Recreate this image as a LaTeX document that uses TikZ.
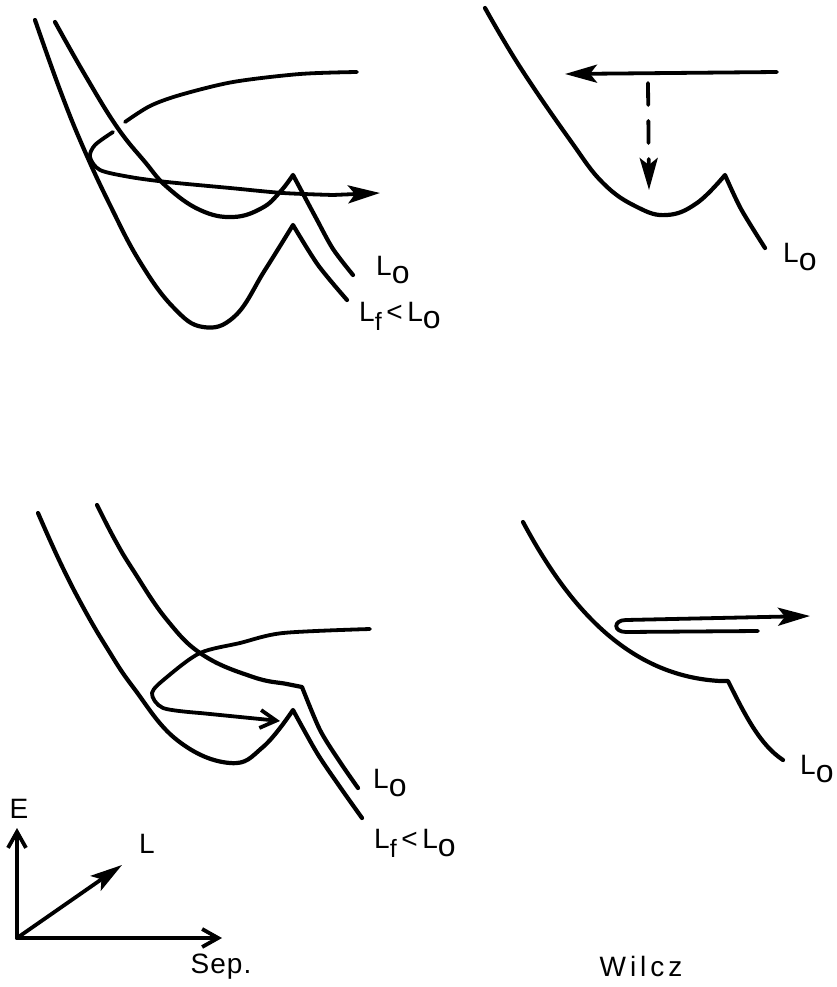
\documentclass[tikz,border=0pt]{standalone}
\usepackage{fontspec}
\newfontfamily\lettering[LetterSpace=4]{Liberation Sans}
\newfontfamily\widelettering[LetterSpace=14]{Liberation Sans}
\usetikzlibrary{arrows.meta}

\newcommand{\Lo}{L\raisebox{-0.28em}{\fontsize{32}{32}\selectfont o}}
\newcommand{\Lfo}{L\raisebox{-0.32em}{\fontsize{25}{25}\selectfont f}\,<\,\Lo}

\begin{document}
\begin{tikzpicture}[
  x=1pt, y=-1pt,
  curve/.style={line width=4.2pt, line join=round, line cap=round},
  traj/.style={line width=3.8pt, line join=round, line cap=round},
  fullhead/.style={-{Stealth[length=32pt, width=18pt, inset=7pt]}},
  openhead/.style={-{Straight Barb[length=16pt, width=18pt]}},
  lbl/.style={font=\lettering\fontsize{28}{32}\selectfont, inner sep=0pt},
]
\useasboundingbox (0,0) rectangle (837,987);

% ================= top left: the trajectory passes over the barrier
\draw[curve] plot[smooth, tension=0.7] coordinates {(35,20) (60,90) (83,147) (110,205)
  (140,262) (173,307) (203,327) (235,316) (265,270) (293,225)}
  -- plot[smooth] coordinates {(293,225) (318,265) (347,300)};
\draw[curve] plot[smooth, tension=0.7] coordinates {(55,22) (85,75) (117,127) (145,162)
  (167,187) (200,210) (233,217) (262,208) (280,192) (293,175)}
  -- plot[smooth] coordinates {(293,175) (316,218) (333,249) (353,275)};
\draw[traj] plot[smooth] coordinates {(357,72) (300,74) (233,82) (180,95) (150,106) (125,122)};
\draw[traj, fullhead] plot[smooth] coordinates {(113,132) (95,145) (90,157) (100,170)
  (130,177) (167,182) (230,188) (283,193) (333,195)} -- (380,193);
\node[lbl, anchor=west] (lo1) at (376,270) {\Lo};
\node[lbl, anchor=west] (lf1) at (359,316) {\Lfo};

% ================= top right: capture into the well
\draw[curve] plot[smooth, tension=0.7] coordinates {(485,8) (520,67) (570,140)
  (603,183) (637,207) (667,215) (697,203) (725,175)}
  -- plot[smooth] coordinates {(725,175) (741,209) (765,248)};
\draw[traj, fullhead] (777,72) -- (565,74);
\draw[traj, fullhead, dash pattern=on 22pt off 16pt] (648,83) -- (649,190);
\node[lbl, anchor=west] (lo2) at (783,257) {\Lo};

% ================= bottom right: reflection
\draw[curve] (523,522) .. controls (570,610) and (630,676) .. (720,681) -- (728,681)
  .. controls (745,715) and (760,745) .. (783,760);
\draw[traj, fullhead] (758,631) -- (626,632) .. controls (613,632) and (613,620) .. (626,620)
  -- (810,616);
\node[lbl, anchor=west] (lo4) at (800,769) {\Lo};

% ================= bottom left: the trajectory turns back
\draw[curve] plot[smooth, tension=0.7] coordinates {(38,513) (60,562) (83,607) (107,648)
  (133,687) (177,740) (230,763) (263,747) (293,710)}
  -- plot[smooth] coordinates {(293,710) (317,753) (340,787) (362,818)};
\draw[curve] plot[smooth, tension=0.7] coordinates {(97,505) (115,540) (133,570) (167,620)
  (203,655) (253,677) (287,684) (302,687)}
  -- plot[smooth] coordinates {(302,687) (320,730) (340,762) (358,788)};
\draw[traj, openhead] plot[smooth] coordinates {(370,629) (283,633) (240,643) (200,653)
  (167,677) (152,693) (163,708) (200,713)} -- (280,721);
\node[lbl, anchor=west] (lo3) at (373,783) {\Lo};
\node[lbl, anchor=west] (lf3) at (374,843) {\Lfo};

% ================= axes
\coordinate (org) at (17,938);
\coordinate (etip) at (17,828);
\coordinate (ltip) at (122,865);
\coordinate (stip) at (222,938);
\draw[traj, openhead] (org) -- (etip);
\draw[traj, fullhead] (org) -- (ltip);
\draw[traj, openhead] (org) -- (stip);
\node[lbl] (elab) at (19,809) {E};
\node[lbl] (llab) at (147,844) {L};
\node[lbl] (slab) at (221,967) {Sep.};
\node[lbl, font=\widelettering\fontsize{28}{32}\selectfont] (wlab) at (641,966) {Wilcz};
\end{tikzpicture}
\end{document}
